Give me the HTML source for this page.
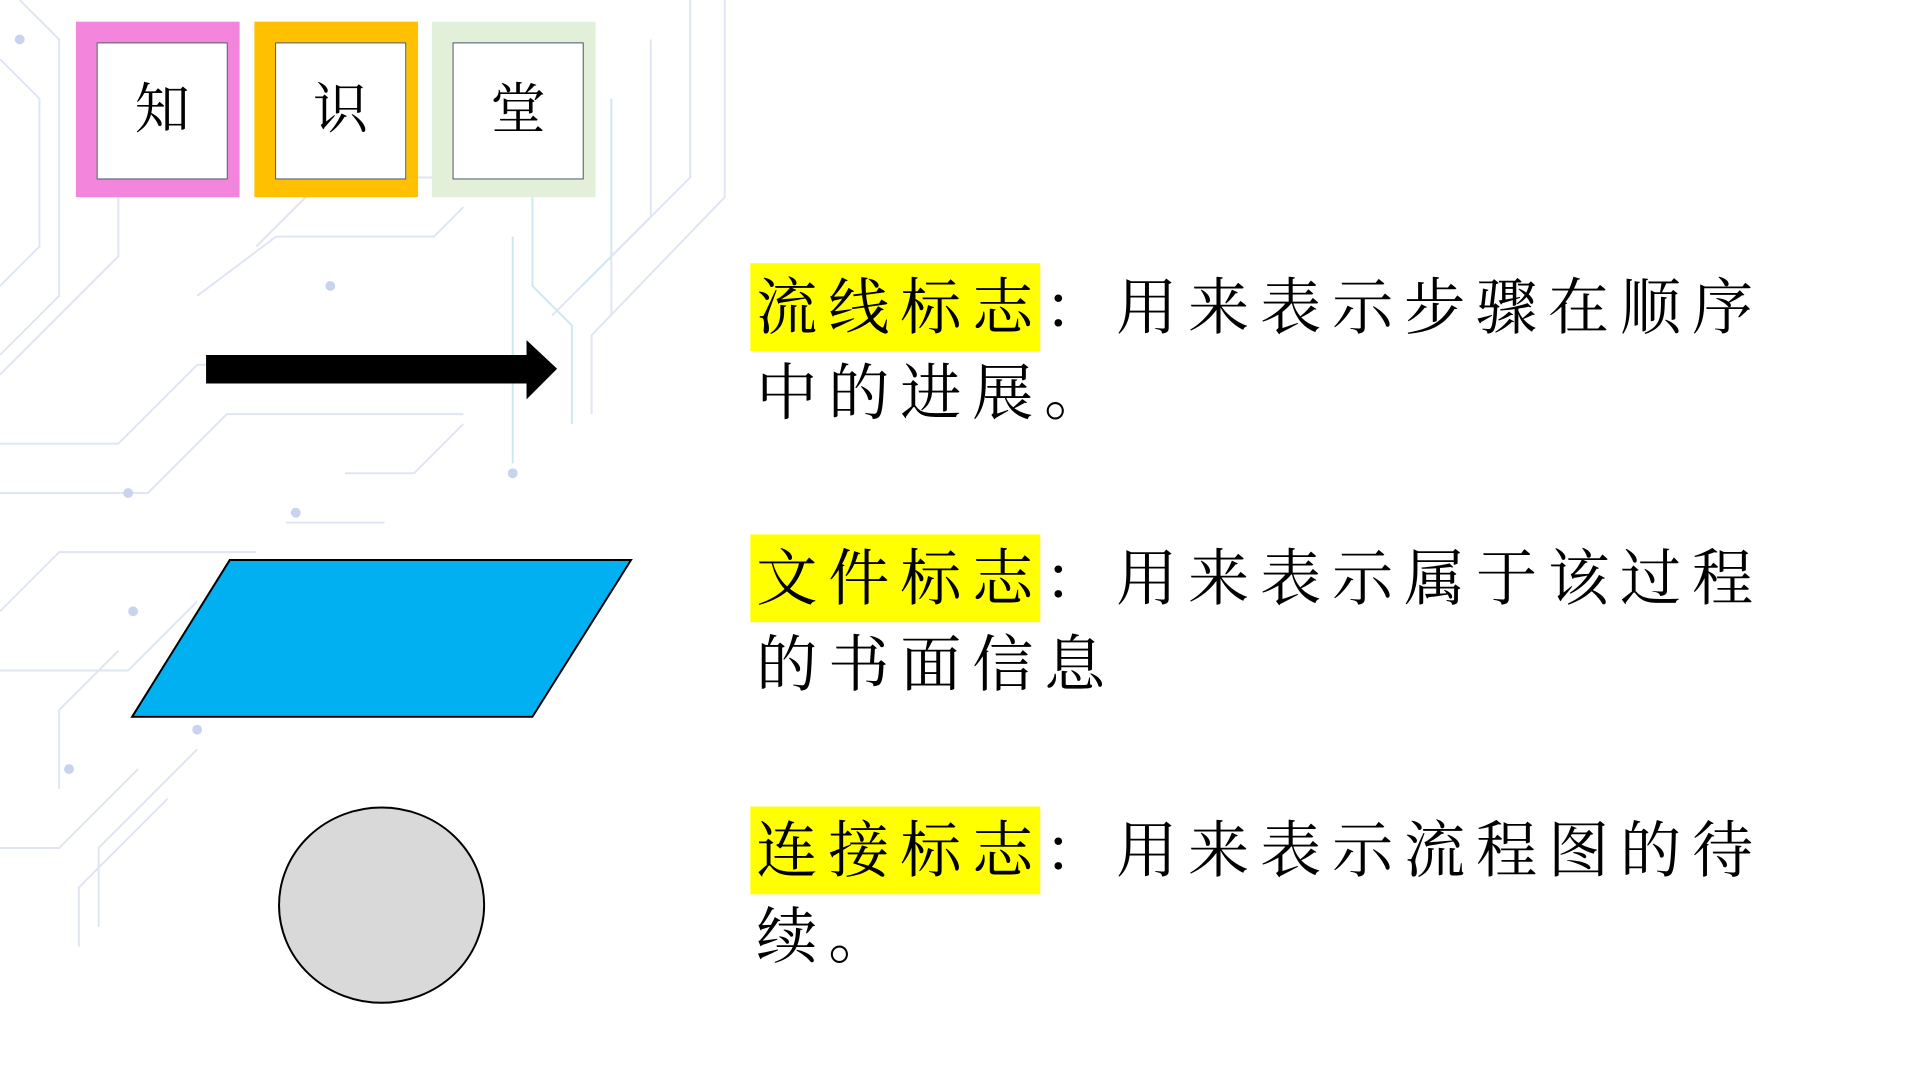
<!DOCTYPE html>
<html><head><meta charset="utf-8">
<style>
body{margin:0;width:1920px;height:1080px;background:#fff;position:relative;overflow:hidden;font-family:"Liberation Serif","Noto Serif CJK SC",serif;}
#w{position:absolute;left:0;top:0;width:1920px;height:1080px;transform:scale(0.986);transform-origin:0 0}
.a{position:absolute}
.box{position:absolute;width:166px;height:178px;top:22px}
.inner{position:absolute;left:21px;top:21px;width:131px;height:137px;background:#fff;border:1.5px solid #44546a;font-size:56px;line-height:137px;text-align:center;color:#000}
.hl{position:absolute;left:761px;width:294px;height:89px;background:#ffff00}
.t{position:absolute;left:767px;font-size:62px;line-height:89px;letter-spacing:11px;color:#000;white-space:nowrap}
</style></head><body><div id="w">
<svg class="a" style="left:0;top:0" width="760" height="960" fill="none" stroke-width="2">
<g stroke="#dfe5f3">
<polyline points="0,60 40,100 40,250 0,290"/>
<polyline points="20,0 60,40 60,300 0,360"/>
<polyline points="120,200 120,260 0,380"/>
<polyline points="735,0 735,200 600,340 600,420"/>
<polyline points="700,0 700,180 560,320"/>
<polyline points="660,40 660,220 620,260 620,320"/>
<polyline points="0,450 120,450 200,370 420,370"/>
<polyline points="0,500 150,500 230,420 470,420"/>
<polyline points="0,620 60,560 260,560"/>
<polyline points="0,680 130,680 200,610"/>
<polyline points="60,800 60,720 120,660"/>
<polyline points="0,860 60,860 140,780"/>
<polyline points="100,940 100,860 200,760"/>
<polyline points="80,960 80,900 170,810"/>
<polyline points="260,250 330,180 520,180"/>
<polyline points="200,300 280,240 440,240 470,210"/>
<polyline points="350,480 420,480 470,430"/>
<polyline points="290,530 390,530"/>
</g>
<g stroke="#cde9ef">
<polyline points="540,160 540,290 580,330 580,430"/>
<polyline points="520,240 520,470"/>
<polyline points="620,100 620,260 590,290"/>
</g>
<g fill="#c9d3ee" stroke="none">
<circle cx="20" cy="40" r="5"/><circle cx="335" cy="290" r="5"/><circle cx="130" cy="500" r="5"/><circle cx="300" cy="520" r="5"/><circle cx="520" cy="480" r="5"/><circle cx="135" cy="620" r="5"/><circle cx="70" cy="780" r="5"/><circle cx="200" cy="740" r="5"/>
</g>
</svg>

<div class="box" style="left:77px;background:#f386dc"><div class="inner">知</div></div>
<div class="box" style="left:258px;background:#ffc000"><div class="inner">识</div></div>
<div class="box" style="left:438px;background:#e2efd9"><div class="inner">堂</div></div>

<svg class="a" style="left:0;top:0" width="760" height="1080">
<polygon points="209,360 534,360 534,345 565,374 534,405 534,389 209,389" fill="#000"/>
<polygon points="233,568 640,568 540,727 134,727" fill="#00b0f0" stroke="#000" stroke-width="2"/>
<ellipse cx="387" cy="918" rx="104" ry="99" fill="#d9d9d9" stroke="#000" stroke-width="2"/>
</svg>

<div class="hl" style="top:267px"></div>
<div class="hl" style="top:542px"></div>
<div class="hl" style="top:818px"></div>
<div class="t" style="top:269px">流线标志：用来表示步骤在顺序</div>
<div class="t" style="top:356px">中的进展。</div>
<div class="t" style="top:544px">文件标志：用来表示属于该过程</div>
<div class="t" style="top:631px">的书面信息</div>
<div class="t" style="top:820px">连接标志：用来表示流程图的待</div>
<div class="t" style="top:907px">续。</div>
</div></body></html>
